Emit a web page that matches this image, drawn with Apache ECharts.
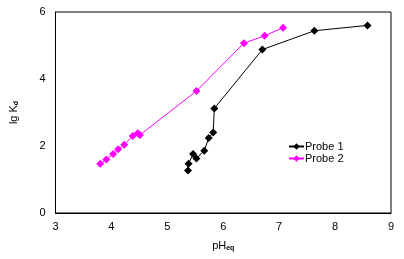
<!DOCTYPE html>
<html><head><meta charset="utf-8">
<script src="https://cdn.jsdelivr.net/npm/echarts@6/dist/echarts.min.js"></script>
<style>html,body{margin:0;padding:0;background:#fff}#c{width:404px;height:259px}</style>
</head><body><div id="c"></div>
<script>
const probe1X = [5.37, 5.38, 5.46, 5.52, 5.66, 5.74, 5.82, 5.84, 6.70, 7.63, 8.58];
const probe1Y = [1.27, 1.47, 1.76, 1.63, 1.86, 2.24, 2.40, 3.12, 4.88, 5.44, 5.60];
const probe2X = [3.80, 3.91, 4.03, 4.12, 4.23, 4.38, 4.47, 4.51, 5.52, 6.37, 6.74, 7.07];
const probe2Y = [1.47, 1.60, 1.76, 1.90, 2.04, 2.30, 2.38, 2.33, 3.64, 5.07, 5.29, 5.53];
const seriesNames = ['Probe 1', 'Probe 2'];
const xTicks = [3, 4, 5, 6, 7, 8, 9];
const yTicks = [0, 2, 4, 6];

const font = 'Liberation Sans, Arial, sans-serif';
const chart = echarts.init(document.getElementById('c'), null, {renderer: 'canvas'});
const zip = (xs, ys) => xs.map((x, i) => [x, ys[i]]);
chart.setOption({
  animation: false,
  backgroundColor: '#fff',
  grid: {left: 54, right: 13, top: 12, bottom: 46, show: true, borderColor: '#000', borderWidth: 1, backgroundColor: 'transparent'},
  legend: {
    orient: 'vertical', left: 283, top: 136, itemGap: 1,
    itemWidth: 15, itemHeight: 8,
    textStyle: {fontFamily: font, fontSize: 11, color: '#000', padding: [0, 0, 0, -4]},
    data: seriesNames
  },
  xAxis: {
    type: 'value', min: xTicks[0], max: xTicks[xTicks.length - 1], interval: 1,
    axisLine: {show: true, lineStyle: {color: '#000', width: 1}},
    axisTick: {show: false}, splitLine: {show: false},
    axisLabel: {fontFamily: font, fontSize: 11, color: '#000', margin: 8},
    name: '{a|pH}{b|eq}', nameLocation: 'middle', nameGap: 27,
    nameTextStyle: {rich: {
      a: {fontFamily: font, fontSize: 11, color: '#000'},
      b: {fontFamily: font, fontSize: 7, fontWeight: 'bold', color: '#000', verticalAlign: 'bottom', padding: [5, 0, 0, 0]}
    }}
  },
  yAxis: {
    type: 'value', min: yTicks[0], max: yTicks[yTicks.length - 1], interval: 2,
    axisLine: {show: true, lineStyle: {color: '#000', width: 1}},
    axisTick: {show: false}, splitLine: {show: false},
    axisLabel: {fontFamily: font, fontSize: 11, color: '#000', margin: 10},
    name: '{a|lg K}{b|d}', nameLocation: 'middle', nameGap: 36, nameRotate: 90,
    nameTextStyle: {rich: {
      a: {fontFamily: font, fontSize: 11, color: '#000'},
      b: {fontFamily: font, fontSize: 7, fontWeight: 'bold', color: '#000', verticalAlign: 'bottom', padding: [5, 0, 0, 0]}
    }}
  },
  series: [
    {name: seriesNames[0], type: 'line', data: zip(probe1X, probe1Y),
     symbol: 'diamond', symbolSize: 8, showAllSymbol: true,
     lineStyle: {color: '#000', width: 1}, itemStyle: {color: '#000'}},
    {name: seriesNames[1], type: 'line', data: zip(probe2X, probe2Y),
     symbol: 'diamond', symbolSize: 8, showAllSymbol: true,
     lineStyle: {color: '#ff00ff', width: 1}, itemStyle: {color: '#ff00ff'}}
  ]
});
</script></body></html>
